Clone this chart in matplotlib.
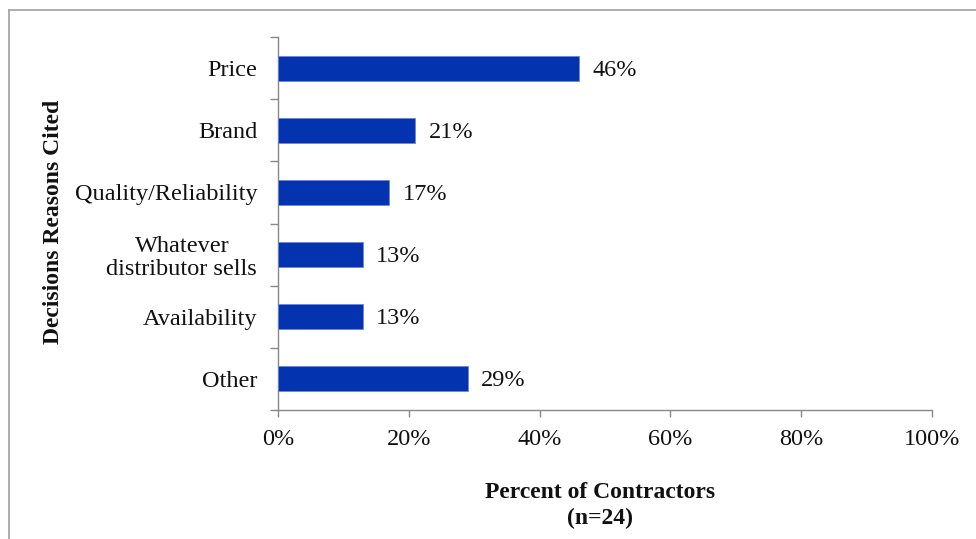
import matplotlib
matplotlib.use("Agg")
import matplotlib.pyplot as plt
from matplotlib.lines import Line2D
import numpy as np

categories = ["Price", "Brand", "Quality/Reliability", "Whatever\ndistributor sells", "Availability", "Other"]
values = [46, 21, 17, 13, 13, 29]
value_labels = ["46%", "21%", "17%", "13%", "13%", "29%"]
xticks = [0, 20, 40, 60, 80, 100]
xtick_labels = ["0%", "20%", "40%", "60%", "80%", "100%"]

plt.rcParams['font.family'] = ['Liberation Serif', 'DejaVu Serif']
FS = 17.5

fig = plt.figure(figsize=(9.76, 5.39), dpi=100)
ax = fig.add_axes([278/976, 1-410/539, (932-278)/976, (410-37)/539])

n = len(categories)
y = np.arange(n)
ax.barh(y, values, height=0.4, color='#0433B0', edgecolor='#6f86d6', linewidth=0.6, zorder=3)
ax.set_ylim(n - 0.5, -0.5)
ax.set_xlim(0, 100)

for yi, v, lab in zip(y, values, value_labels):
    ax.annotate(lab, (v, yi), xytext=(9.5, -1.5), textcoords='offset points',
                va='center', ha='left', fontsize=FS, color='#111111')

ax.set_yticks(y)
ax.set_yticklabels(categories, fontsize=FS, color='#111111', multialignment='center')
for t in ax.get_yticklabels():
    t.set_linespacing(1.15)
ax.set_yticks(np.arange(n + 1) - 0.5, minor=True)
ax.tick_params(axis='y', which='major', length=0, pad=15)
ax.tick_params(axis='y', which='minor', length=6, color='#888888', width=1)

ax.set_xticks(xticks)
ax.set_xticklabels(xtick_labels, fontsize=FS, color='#111111')
ax.tick_params(axis='x', which='major', length=5, color='#888888', width=1, pad=9)

for s in ['top', 'right']:
    ax.spines[s].set_visible(False)
for s in ['left', 'bottom']:
    ax.spines[s].set_color('#888888')
    ax.spines[s].set_linewidth(1)

fig.text(600/976, 1-505.5/539, "Percent of Contractors\n(n=24)", ha='center', va='center',
         fontsize=17, fontweight='bold', color='#111111', linespacing=1.35)
fig.text(54/976, 1-222/539, "Decisions Reasons Cited", ha='center', va='center',
         rotation=90, fontsize=17, fontweight='bold', color='#111111')

# outer frame (left and top edges visible)
fig.add_artist(Line2D([8.5/976, 8.5/976], [0, 1-9.5/539], transform=fig.transFigure, color='#a0a0a0', lw=1.2))
fig.add_artist(Line2D([8.5/976, 1], [1-9.5/539, 1-9.5/539], transform=fig.transFigure, color='#a0a0a0', lw=1.2))

fig.savefig("out.png", dpi=100)
